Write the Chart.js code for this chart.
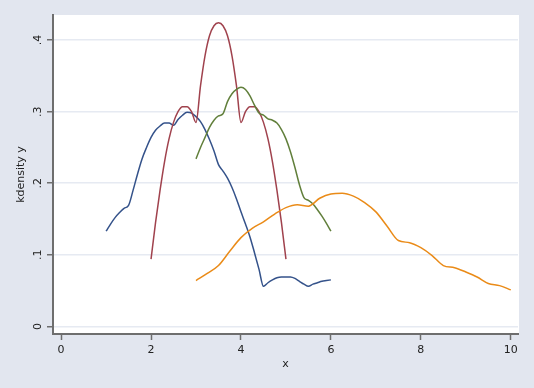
<!DOCTYPE html>
<html>
<head>
<meta charset="utf-8">
<script src="https://cdn.jsdelivr.net/npm/chart.js@4"></script>
<style>
  html, body { margin: 0; padding: 0; background: #E2E6EF; }
  canvas { display: block; }
</style>
</head>
<body>
<canvas id="c" width="534" height="388"></canvas>
<script>
// ---- data ----
const xTicks = [0, 2, 4, 6, 8, 10];
const yTicks = [0, 0.1, 0.2, 0.3, 0.4];
const yTickLabels = ["0", ".1", ".2", ".3", ".4"];

const blueX = [1.0,1.1,1.2,1.3,1.4,1.5,1.6,1.7,1.8,1.9,2.0,2.1,2.2,2.3,2.4,2.5,2.6,2.7,2.8,2.9,3.0,3.1,3.2,3.3,3.4,3.5,3.6,3.7,3.8,3.9,4.0,4.1,4.2,4.3,4.4,4.5,4.6,4.7,4.8,4.9,5.0,5.1,5.2,5.3,5.4,5.5,5.6,5.7,5.8,5.9,6.0];
const blueY = [.133,.143,.152,.159,.165,.169,.190,.213,.234,.250,.264,.274,.280,.284,.284,.281,.289,.295,.299,.298,.293,.286,.275,.261,.245,.226,.217,.207,.194,.178,.160,.143,.125,.103,.080,.056,.061,.065,.068,.069,.069,.069,.067,.063,.059,.056,.059,.061,.063,.064,.065];

const redX = [2.0,2.1,2.2,2.3,2.4,2.5,2.6,2.7,2.8,2.9,3.0,3.1,3.2,3.3,3.4,3.5,3.6,3.7,3.8,3.9,4.0,4.1,4.2,4.3,4.4,4.5,4.6,4.7,4.8,4.9,5.0];
const redY = [.094,.145,.190,.230,.262,.285,.300,.307,.307,.300,.285,.336,.378,.406,.420,.424,.420,.406,.378,.336,.285,.300,.307,.307,.300,.285,.262,.230,.190,.145,.094];

const greenX = [3.0,3.1,3.2,3.3,3.4,3.5,3.6,3.7,3.8,3.9,4.0,4.1,4.2,4.3,4.4,4.5,4.6,4.7,4.8,4.9,5.0,5.1,5.2,5.3,5.4,5.5,5.6,5.7,5.8,5.9,6.0];
const greenY = [.234,.250,.264,.278,.288,.294,.297,.314,.325,.331,.334,.331,.322,.309,.298,.295,.290,.288,.284,.275,.262,.244,.222,.198,.180,.176,.171,.163,.154,.144,.133];

const orangeX = [3.0,3.25,3.5,3.75,4.0,4.25,4.5,4.75,5.0,5.25,5.5,5.75,6.0,6.25,6.5,6.75,7.0,7.25,7.5,7.75,8.0,8.25,8.5,8.75,9.0,9.25,9.5,9.75,10.0];
const orangeY = [.064,.074,.085,.105,.124,.137,.146,.157,.166,.170,.168,.179,.185,.186,.182,.173,.160,.140,.120,.117,.110,.099,.085,.082,.076,.069,.060,.057,.051];

const xTitle = "x";
const yTitle = "kdensity y";

// ---- styling ----
const PAGE_BG = "#E2E6EF";
const AXIS = "#6E6E6E";
const GRID = "#E6EAF2";
const TEXT = "#222222";
const FONT = "'DejaVu Sans', Verdana, sans-serif";

function pts(xs, ys) { return xs.map((x, i) => ({ x: x, y: ys[i] })); }

function ds(xs, ys, color, order) {
  return {
    data: pts(xs, ys),
    showLine: true,
    borderColor: color,
    backgroundColor: color,
    borderWidth: 1.5,
    pointRadius: 0,
    pointHoverRadius: 0,
    cubicInterpolationMode: 'monotone',
    fill: false,
    order: order
  };
}

const bgPlugin = {
  id: 'bg',
  beforeDraw(chart) {
    const { ctx, chartArea: a } = chart;
    ctx.save();
    ctx.fillStyle = PAGE_BG;
    ctx.fillRect(0, 0, chart.width, chart.height);
    ctx.fillStyle = "#FFFFFF";
    ctx.fillRect(a.left, a.top, a.right - a.left + 1, a.bottom - a.top);
    ctx.restore();
  },
  afterDraw(chart) {
    // rotated y tick labels (Stata style), positioned through the y scale
    const { ctx } = chart;
    const ys = chart.scales.y;
    ctx.save();
    ctx.fillStyle = TEXT;
    ctx.font = "11px " + FONT;
    ctx.textAlign = "center";
    ctx.textBaseline = "middle";
    yTicks.forEach((v, i) => {
      const py = ys.getPixelForValue(v);
      ctx.save();
      ctx.translate(38.5, py);
      ctx.rotate(-Math.PI / 2);
      ctx.fillText(yTickLabels[i], 0, 0);
      ctx.restore();
    });
    ctx.restore();
  }
};

new Chart(document.getElementById('c'), {
  type: 'scatter',
  data: {
    datasets: [
      ds(blueX, blueY, '#34528A', 4),
      ds(redX, redY, '#A0424D', 3),
      ds(greenX, greenY, '#617F3B', 2),
      ds(orangeX, orangeY, '#EA8B18', 1)
    ]
  },
  options: {
    responsive: false,
    animation: false,
    events: [],
    layout: { padding: { left: 0, right: 16, top: 15, bottom: 0 } },
    plugins: { legend: { display: false }, tooltip: { enabled: false } },
    scales: {
      x: {
        type: 'linear',
        min: -0.18,
        max: 10.16,
        afterFit(s) { s.height = 54; },
        afterBuildTicks(s) { s.ticks = xTicks.map(v => ({ value: v })); },
        grid: { color: 'rgba(0,0,0,0)', tickColor: AXIS, drawTicks: true, tickLength: 6, tickWidth: 1.5, drawOnChartArea: false },
        border: { display: true, color: AXIS, width: 2 },
        ticks: { color: TEXT, font: { family: FONT, size: 11 }, padding: 4, maxRotation: 0, autoSkip: false },
        title: { display: true, text: xTitle, color: TEXT, font: { family: FONT, size: 11 }, padding: { top: 0, bottom: 17 } }
      },
      y: {
        type: 'linear',
        min: -0.0106,
        max: 0.435,
        afterFit(s) { s.width = 53; },
        afterBuildTicks(s) { s.ticks = yTicks.map(v => ({ value: v })); },
        grid: { color: GRID, lineWidth: 1.5, tickColor: AXIS, drawTicks: true, tickLength: 6, tickWidth: 1.5 },
        border: { display: true, color: AXIS, width: 2 },
        ticks: { display: false },
        title: { display: true, text: yTitle, color: TEXT, font: { family: FONT, size: 11 }, padding: { top: 15, bottom: 0 } }
      }
    }
  },
  plugins: [bgPlugin]
});
</script>
</body>
</html>
